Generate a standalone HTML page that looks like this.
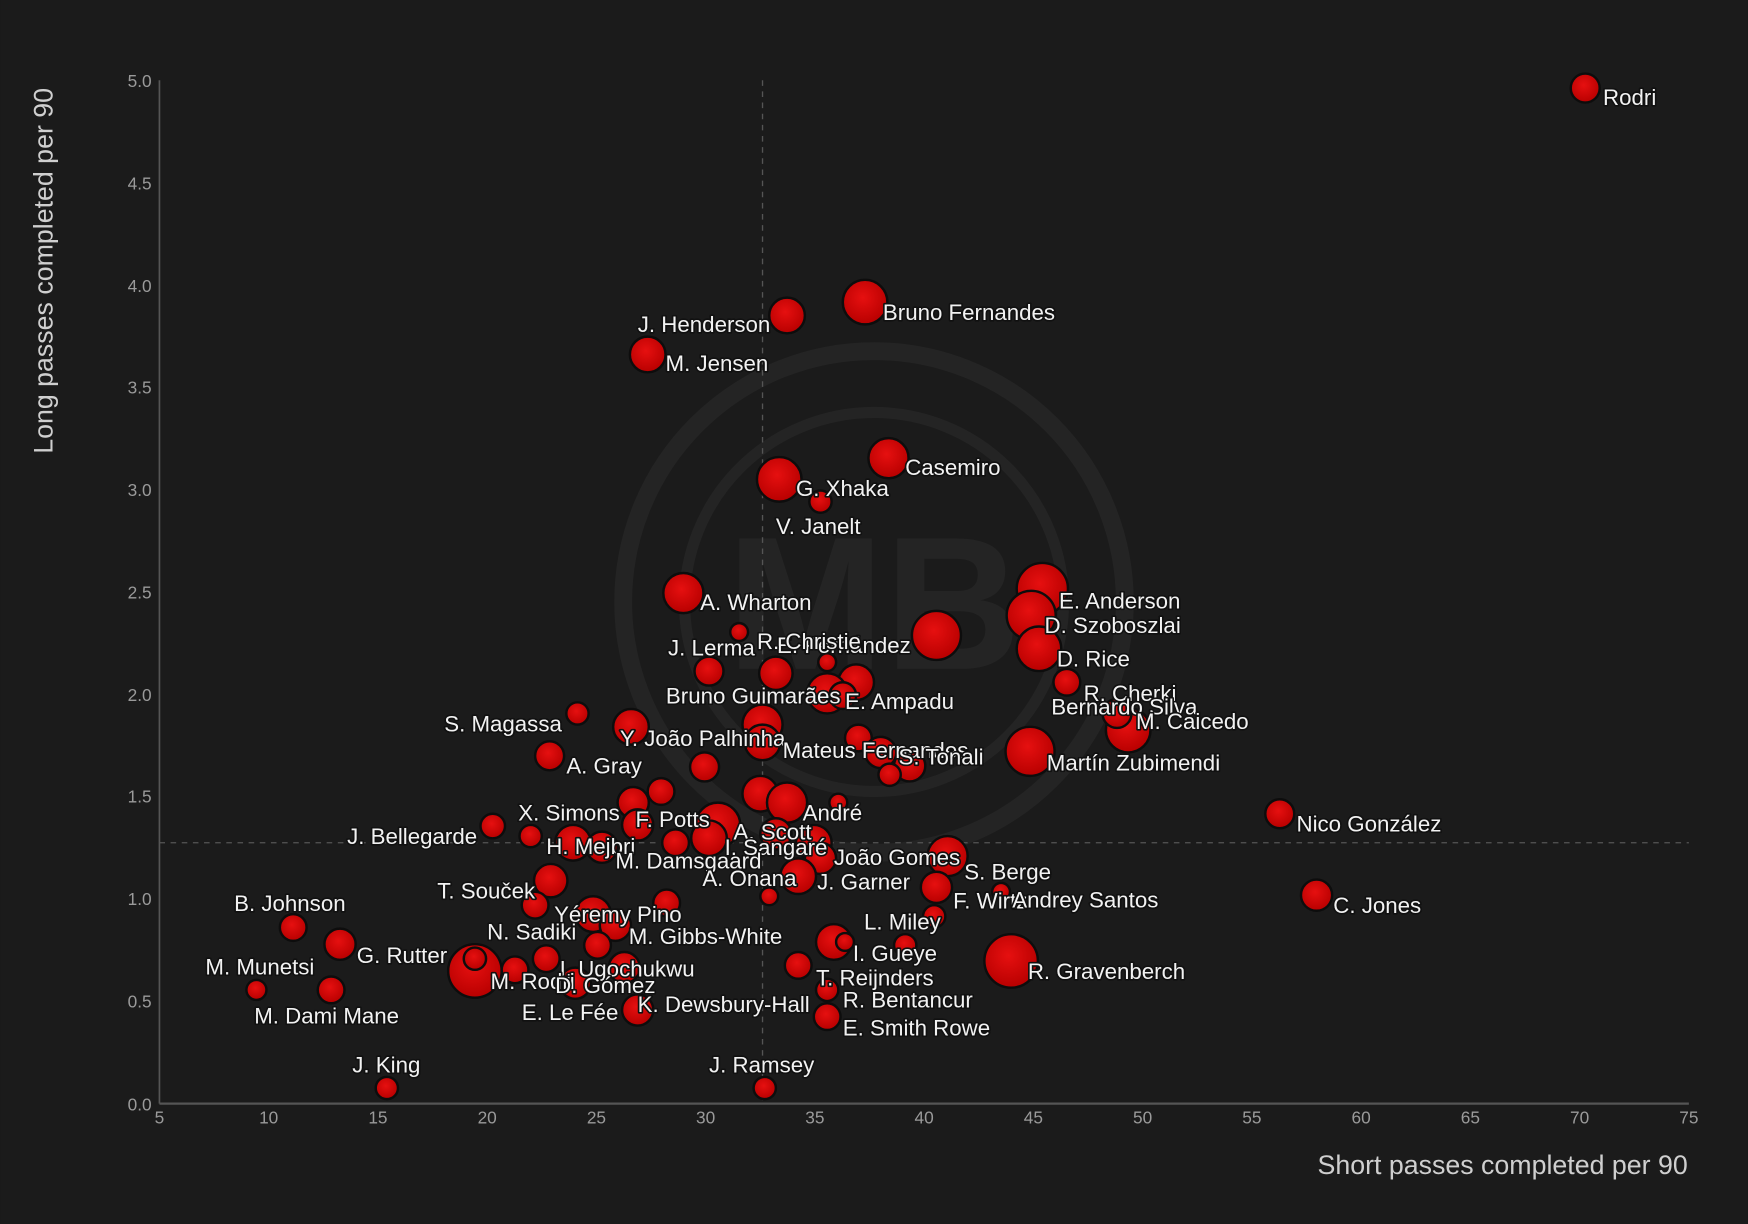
<!DOCTYPE html>
<html><head><meta charset="utf-8"><style>
html,body{margin:0;padding:0;background:#1b1b1b;}
svg{display:block;}
.l{font-family:"Liberation Sans",Arial,sans-serif;font-size:20px;fill:#f2f2f2;stroke:#111;stroke-width:3px;paint-order:stroke;stroke-linejoin:round;}
.t{font-family:"Liberation Sans",Arial,sans-serif;font-size:15.5px;fill:#9a9a9a;}
.a{font-family:"Liberation Sans",Arial,sans-serif;font-size:24px;fill:#cfcfcf;}
circle.b{fill:url(#g);stroke:#0d0d0d;stroke-width:2.2;}
</style></head><body>
<svg width="1748" height="1224" viewBox="0 0 1568 1098" xmlns="http://www.w3.org/2000/svg">
<defs><radialGradient id="g" cx="45%" cy="40%" r="60%"><stop offset="0" stop-color="#e61010"/><stop offset="1" stop-color="#b80000"/></radialGradient></defs>
<rect width="1568" height="1098" fill="#1b1b1b"/>
<!-- watermark -->
<g fill="none" stroke="#262626" stroke-width="16" opacity="0.9">
<circle cx="784" cy="540" r="225"/>
<circle cx="784" cy="540" r="170" stroke-width="10"/>
</g>
<text x="784" y="600" text-anchor="middle" font-family="Liberation Sans" font-weight="bold" font-size="170" fill="#242424">MB</text>
<!-- axes -->
<line x1="143" y1="72" x2="143" y2="990" stroke="#555" stroke-width="1.5"/>
<line x1="143" y1="990" x2="1515" y2="990" stroke="#555" stroke-width="2"/>
<line x1="684" y1="72" x2="684" y2="990" stroke="#555" stroke-width="1.2" stroke-dasharray="5,5"/>
<line x1="143" y1="756" x2="1515" y2="756" stroke="#555" stroke-width="1.2" stroke-dasharray="5,5"/>
<g class="t" text-anchor="end">
<text x="136" y="78">5.0</text><text x="136" y="170">4.5</text><text x="136" y="262">4.0</text><text x="136" y="353">3.5</text><text x="136" y="445">3.0</text><text x="136" y="537">2.5</text><text x="136" y="629">2.0</text><text x="136" y="720">1.5</text><text x="136" y="812">1.0</text><text x="136" y="904">0.5</text><text x="136" y="996">0.0</text>
</g>
<g class="t" text-anchor="middle">
<text x="143" y="1008">5</text><text x="241" y="1008">10</text><text x="339" y="1008">15</text><text x="437" y="1008">20</text><text x="535" y="1008">25</text><text x="633" y="1008">30</text><text x="731" y="1008">35</text><text x="829" y="1008">40</text><text x="927" y="1008">45</text><text x="1025" y="1008">50</text><text x="1123" y="1008">55</text><text x="1221" y="1008">60</text><text x="1319" y="1008">65</text><text x="1417" y="1008">70</text><text x="1515" y="1008">75</text>
</g>
<text class="a" x="1514" y="1053" text-anchor="end">Short passes completed per 90</text>
<text class="a" transform="translate(47,243) rotate(-90)" text-anchor="middle">Long passes completed per 90</text>
<!-- bubbles -->
<g>
<circle class="b" cx="1422" cy="79" r="13"/>
<circle class="b" cx="776" cy="271" r="20"/>
<circle class="b" cx="706" cy="283" r="16"/>
<circle class="b" cx="581" cy="318" r="16"/>
<circle class="b" cx="797" cy="411" r="18"/>
<circle class="b" cx="699" cy="430" r="20"/>
<circle class="b" cx="736" cy="450" r="10"/>
<circle class="b" cx="613" cy="532" r="18"/>
<circle class="b" cx="935" cy="528" r="23"/>
<circle class="b" cx="925" cy="552" r="22"/>
<circle class="b" cx="932" cy="582" r="20"/>
<circle class="b" cx="840" cy="570" r="22"/>
<circle class="b" cx="663" cy="567" r="8"/>
<circle class="b" cx="636" cy="602" r="13"/>
<circle class="b" cx="696" cy="604" r="15"/>
<circle class="b" cx="742" cy="594" r="8"/>
<circle class="b" cx="768" cy="612" r="16"/>
<circle class="b" cx="742" cy="622" r="18"/>
<circle class="b" cx="756" cy="624" r="12"/>
<circle class="b" cx="957" cy="612" r="12"/>
<circle class="b" cx="1012" cy="655" r="20"/>
<circle class="b" cx="1002" cy="640" r="13"/>
<circle class="b" cx="518" cy="640" r="10"/>
<circle class="b" cx="566" cy="652" r="16"/>
<circle class="b" cx="684" cy="650" r="18"/>
<circle class="b" cx="684" cy="666" r="16"/>
<circle class="b" cx="770" cy="662" r="12"/>
<circle class="b" cx="790" cy="675" r="14"/>
<circle class="b" cx="816" cy="687" r="14"/>
<circle class="b" cx="798" cy="695" r="10"/>
<circle class="b" cx="924" cy="674" r="22"/>
<circle class="b" cx="493" cy="678" r="13"/>
<circle class="b" cx="632" cy="688" r="13"/>
<circle class="b" cx="593" cy="710" r="12"/>
<circle class="b" cx="568" cy="720" r="14"/>
<circle class="b" cx="682" cy="712" r="16"/>
<circle class="b" cx="706" cy="720" r="18"/>
<circle class="b" cx="752" cy="720" r="8"/>
<circle class="b" cx="1148" cy="730" r="13"/>
<circle class="b" cx="442" cy="741" r="11"/>
<circle class="b" cx="476" cy="750" r="10"/>
<circle class="b" cx="514" cy="756" r="16"/>
<circle class="b" cx="540" cy="760" r="14"/>
<circle class="b" cx="572" cy="740" r="14"/>
<circle class="b" cx="606" cy="756" r="12"/>
<circle class="b" cx="644" cy="740" r="20"/>
<circle class="b" cx="636" cy="752" r="16"/>
<circle class="b" cx="696" cy="748" r="14"/>
<circle class="b" cx="730" cy="756" r="16"/>
<circle class="b" cx="736" cy="770" r="14"/>
<circle class="b" cx="716" cy="786" r="16"/>
<circle class="b" cx="690" cy="804" r="8"/>
<circle class="b" cx="850" cy="768" r="18"/>
<circle class="b" cx="840" cy="796" r="14"/>
<circle class="b" cx="898" cy="800" r="8"/>
<circle class="b" cx="838" cy="822" r="10"/>
<circle class="b" cx="812" cy="848" r="10"/>
<circle class="b" cx="494" cy="790" r="15"/>
<circle class="b" cx="1181" cy="803" r="14"/>
<circle class="b" cx="263" cy="832" r="12"/>
<circle class="b" cx="480" cy="812" r="12"/>
<circle class="b" cx="532" cy="820" r="16"/>
<circle class="b" cx="552" cy="830" r="14"/>
<circle class="b" cx="598" cy="810" r="12"/>
<circle class="b" cx="748" cy="845" r="16"/>
<circle class="b" cx="758" cy="845" r="8"/>
<circle class="b" cx="305" cy="847" r="14"/>
<circle class="b" cx="230" cy="888" r="9"/>
<circle class="b" cx="297" cy="888" r="12"/>
<circle class="b" cx="426" cy="871" r="24"/>
<circle class="b" cx="426" cy="860" r="10"/>
<circle class="b" cx="490" cy="860" r="12"/>
<circle class="b" cx="462" cy="870" r="12"/>
<circle class="b" cx="536" cy="848" r="12"/>
<circle class="b" cx="560" cy="868" r="14"/>
<circle class="b" cx="516" cy="882" r="14"/>
<circle class="b" cx="572" cy="906" r="14"/>
<circle class="b" cx="907" cy="862" r="24"/>
<circle class="b" cx="716" cy="866" r="12"/>
<circle class="b" cx="742" cy="888" r="10"/>
<circle class="b" cx="742" cy="912" r="12"/>
<circle class="b" cx="347" cy="976" r="10"/>
<circle class="b" cx="686" cy="976" r="10"/>
</g>
<!-- labels -->
<g class="l">
<text x="1438" y="94">Rodri</text>
<text x="792" y="287">Bruno Fernandes</text>
<text x="691" y="298" text-anchor="end">J. Henderson</text>
<text x="597" y="333">M. Jensen</text>
<text x="812" y="426">Casemiro</text>
<text x="714" y="445">G. Xhaka</text>
<text x="696" y="479">V. Janelt</text>
<text x="628" y="547">A. Wharton</text>
<text x="950" y="546">E. Anderson</text>
<text x="937" y="568">D. Szoboszlai</text>
<text x="948" y="598">D. Rice</text>
<text x="697" y="586">E. Fernández</text>
<text x="677" y="588" text-anchor="end">J. Lerma</text>
<text x="679" y="582">R. Christie</text>
<text x="754" y="631" text-anchor="end">Bruno Guimarães</text>
<text x="758" y="636">E. Ampadu</text>
<text x="972" y="629">R. Cherki</text>
<text x="943" y="641">Bernardo Silva</text>
<text x="1019" y="654">M. Caicedo</text>
<text x="504" y="656" text-anchor="end">S. Magassa</text>
<text x="556" y="669">Y. João Palhinha</text>
<text x="702" y="680">Mateus Fernandes</text>
<text x="806" y="686">S. Tonali</text>
<text x="939" y="691">Martín Zubimendi</text>
<text x="508" y="694">A. Gray</text>
<text x="720" y="736">André</text>
<text x="1163" y="746">Nico González</text>
<text x="556" y="736" text-anchor="end">X. Simons</text>
<text x="428" y="757" text-anchor="end">J. Bellegarde</text>
<text x="570" y="742">F. Potts</text>
<text x="658" y="753">A. Scott</text>
<text x="650" y="767">I. Sangaré</text>
<text x="490" y="766">H. Mejbri</text>
<text x="552" y="779">M. Damsgaard</text>
<text x="748" y="776">João Gomes</text>
<text x="865" y="789">S. Berge</text>
<text x="630" y="795">A. Onana</text>
<text x="733" y="798">J. Garner</text>
<text x="855" y="815">F. Wirtz</text>
<text x="908" y="814">Andrey Santos</text>
<text x="775" y="834">L. Miley</text>
<text x="480" y="806" text-anchor="end">T. Souček</text>
<text x="210" y="817">B. Johnson</text>
<text x="497" y="827">Yéremy Pino</text>
<text x="1196" y="819">C. Jones</text>
<text x="517" y="843" text-anchor="end">N. Sadiki</text>
<text x="564" y="847">M. Gibbs-White</text>
<text x="765" y="862">I. Gueye</text>
<text x="320" y="864">G. Rutter</text>
<text x="282" y="874" text-anchor="end">M. Munetsi</text>
<text x="228" y="918">M. Dami Mane</text>
<text x="922" y="878">R. Gravenberch</text>
<text x="732" y="884">T. Reijnders</text>
<text x="756" y="904">R. Bentancur</text>
<text x="756" y="929">E. Smith Rowe</text>
<text x="502" y="876">I. Ugochukwu</text>
<text x="440" y="887">M. Rodri</text>
<text x="498" y="891">D. Gómez</text>
<text x="468" y="915">E. Le Fée</text>
<text x="572" y="908">K. Dewsbury-Hall</text>
<text x="316" y="962">J. King</text>
<text x="636" y="962">J. Ramsey</text>
</g>
</svg>
</body></html>
